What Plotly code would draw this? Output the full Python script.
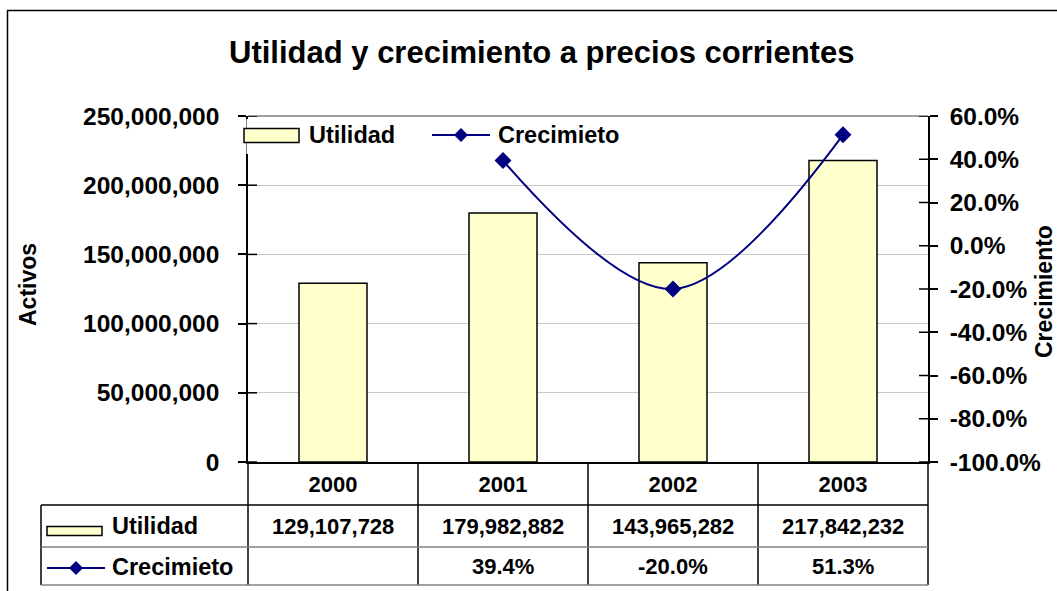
import plotly.graph_objects as go

# ---- data ----
years = ["2000", "2001", "2002", "2003"]
utilidad = [129107728, 179982882, 143965282, 217842232]
crecimiento = [None, 0.394, -0.200, 0.513]

left_ticks = [0, 50000000, 100000000, 150000000, 200000000, 250000000]
right_ticks = [-1.0, -0.8, -0.6, -0.4, -0.2, 0.0, 0.2, 0.4, 0.6]

W, H = 1057, 591
FONT = "Liberation Sans, Arial, sans-serif"
BAR_FILL = "#FFFFCC"
LINE_COL = "#000080"

# plot-area box in pixels
PL, PR, PT, PB = 248, 928, 116, 462


def px(x):
    return x / W


def py(y):
    return 1 - y / H


fig = go.Figure()

fig.add_trace(go.Bar(
    x=years, y=utilidad, name="Utilidad", width=0.4,
    marker=dict(color=BAR_FILL, line=dict(color="black", width=1.5)),
    yaxis="y", showlegend=False,
))
fig.add_trace(go.Scatter(
    x=years, y=crecimiento, name="Crecimieto", mode="lines+markers",
    line=dict(color=LINE_COL, width=2, shape="spline", smoothing=1.0),
    marker=dict(symbol="diamond", size=13, color=LINE_COL),
    yaxis="y2", showlegend=False, connectgaps=False,
))

tick_font = dict(family=FONT, size=24.5, color="black", weight="bold")

fig.update_layout(
    width=W, height=H,
    margin=dict(l=0, r=0, t=0, b=0, autoexpand=False),
    paper_bgcolor="white", plot_bgcolor="white",
    showlegend=False,
    xaxis=dict(
        domain=[px(PL), px(PR)], type="category", range=[-0.5, 3.5],
        showline=True, linecolor="black", linewidth=1.5, automargin=False,
        ticks="", showgrid=False, tickfont=dict(family=FONT, size=22, color="black", weight="bold"),
        ticklabelstandoff=2,
    ),
    yaxis=dict(
        domain=[py(PB), py(PT)], range=[0, 250000000], automargin=False,
        tickvals=left_ticks, ticktext=[f"{v:,}" for v in left_ticks],
        showline=True, linecolor="black", linewidth=1.5,
        ticks="outside", ticklen=8, tickcolor="black", tickwidth=1.5,
        showgrid=True, gridcolor="#C8C8C8", gridwidth=1,
        zeroline=False, tickfont=tick_font, ticklabelstandoff=14,
    ),
    yaxis2=dict(
        overlaying="y", side="right", range=[-1.0, 0.6], automargin=False,
        tickvals=right_ticks, ticktext=[f"{v:.1%}" for v in right_ticks],
        showline=True, linecolor="black", linewidth=1.5,
        ticks="outside", ticklen=8, tickcolor="black", tickwidth=1.5,
        showgrid=False, zeroline=False, tickfont=tick_font, ticklabelstandoff=7,
    ),
)

shapes = []
annotations = []

# outer chart frame (top and left edges)
shapes.append(dict(type="line", xref="paper", yref="paper", x0=px(7), x1=1, y0=py(10.5), y1=py(10.5),
                   line=dict(color="black", width=1.5)))
shapes.append(dict(type="line", xref="paper", yref="paper", x0=px(7.5), x1=px(7.5), y0=py(10), y1=0,
                   line=dict(color="black", width=1.5)))

# plot-area top border
shapes.append(dict(type="line", xref="paper", yref="paper", x0=px(PL), x1=px(PR), y0=py(PT), y1=py(PT),
                   line=dict(color="#808080", width=1.5)))

# cross ticks: inner halves
for v in left_ticks:
    shapes.append(dict(type="line", xref="paper", yref="y", x0=px(PL), x1=px(PL + 9), y0=v, y1=v,
                       line=dict(color="black", width=1.5)))
for v in right_ticks:
    shapes.append(dict(type="line", xref="paper", yref="y2", x0=px(PR - 9), x1=px(PR), y0=v, y1=v,
                       line=dict(color="black", width=1.5)))

# title and axis titles
annotations.append(dict(text="Utilidad y crecimiento a precios corrientes", xref="paper", yref="paper",
                        x=px(541), y=py(53), showarrow=False, xanchor="center", yanchor="middle",
                        font=dict(family=FONT, size=31, color="black", weight="bold")))
annotations.append(dict(text="Activos", xref="paper", yref="paper", x=px(28), y=py(285), textangle=-90,
                        showarrow=False, xanchor="center", yanchor="middle",
                        font=dict(family=FONT, size=23, color="black", weight="bold")))
annotations.append(dict(text="Crecimiento", xref="paper", yref="paper", x=px(1044), y=py(292), textangle=-90,
                        showarrow=False, xanchor="center", yanchor="middle",
                        font=dict(family=FONT, size=23, color="black", weight="bold")))

legend_font = dict(family=FONT, size=23.5, color="black", weight="bold")


def bar_swatch(x0, x1, yc, h):
    shapes.append(dict(type="rect", xref="paper", yref="paper", x0=px(x0), x1=px(x1),
                       y0=py(yc + h / 2), y1=py(yc - h / 2), fillcolor=BAR_FILL,
                       line=dict(color="black", width=1.5)))


def line_swatch(x0, x1, yc):
    shapes.append(dict(type="line", xref="paper", yref="paper", x0=px(x0), x1=px(x1), y0=py(yc), y1=py(yc),
                       line=dict(color=LINE_COL, width=2)))
    xm = (x0 + x1) / 2
    shapes.append(dict(type="path", xref="paper", yref="paper",
                       path=f"M {px(xm)},{py(yc - 7)} L {px(xm + 7)},{py(yc)} L {px(xm)},{py(yc + 7)} L {px(xm - 7)},{py(yc)} Z",
                       fillcolor=LINE_COL, line=dict(color=LINE_COL, width=0)))


# legend (white panel inside plot area, kept below the traces)
shapes.append(dict(type="rect", xref="paper", yref="paper", x0=px(242), x1=px(640), y0=py(154), y1=py(119),
                   fillcolor="white", line=dict(width=0), layer="between"))
shapes.append(dict(type="line", xref="paper", yref="paper", x0=px(PL), x1=px(PL), y0=py(154), y1=py(119),
                   line=dict(color="white", width=3)))
bar_swatch(244, 299, 135.5, 14)
annotations.append(dict(text="Utilidad", xref="paper", yref="paper", x=px(307), y=py(135), showarrow=False,
                        xanchor="left", yanchor="middle", font=legend_font))
line_swatch(432, 490, 135)
annotations.append(dict(text="Crecimieto", xref="paper", yref="paper", x=px(496), y=py(135), showarrow=False,
                        xanchor="left", yanchor="middle", font=legend_font))

# data table below the axis
col_edges = [PL + i * (PR - PL) / len(years) for i in range(len(years) + 1)]
ROW1, ROW2, ROW3 = 505, 547, 585
TL = 41
for xe in col_edges:
    shapes.append(dict(type="line", xref="paper", yref="paper", x0=px(xe), x1=px(xe), y0=py(PB), y1=py(ROW3),
                       line=dict(color="black", width=1.5)))
shapes.append(dict(type="line", xref="paper", yref="paper", x0=px(TL), x1=px(TL), y0=py(ROW1), y1=py(ROW3),
                   line=dict(color="black", width=1.5)))
shapes.append(dict(type="line", xref="paper", yref="paper", x0=px(TL), x1=px(PR), y0=py(ROW1), y1=py(ROW1),
                   line=dict(color="black", width=1.5)))
for yr in (ROW2, ROW3):
    shapes.append(dict(type="line", xref="paper", yref="paper", x0=px(TL), x1=px(PR), y0=py(yr), y1=py(yr),
                       line=dict(color="#808080", width=1.5)))

bar_swatch(47, 102, 531, 9)
annotations.append(dict(text="Utilidad", xref="paper", yref="paper", x=px(110), y=py(526), showarrow=False,
                        xanchor="left", yanchor="middle", font=legend_font))
line_swatch(47, 105, 568)
annotations.append(dict(text="Crecimieto", xref="paper", yref="paper", x=px(110), y=py(567), showarrow=False,
                        xanchor="left", yanchor="middle", font=legend_font))

table_font = dict(family=FONT, size=22, color="black", weight="bold")
for i in range(len(years)):
    xc = (col_edges[i] + col_edges[i + 1]) / 2
    annotations.append(dict(text=f"{utilidad[i]:,}", xref="paper", yref="paper", x=px(xc), y=py(526),
                            showarrow=False, xanchor="center", yanchor="middle", font=table_font))
    if crecimiento[i] is not None:
        annotations.append(dict(text=f"{crecimiento[i]:.1%}", xref="paper", yref="paper", x=px(xc), y=py(566),
                                showarrow=False, xanchor="center", yanchor="middle", font=table_font))

fig.update_layout(shapes=shapes, annotations=annotations)
fig.write_html("out.html")
